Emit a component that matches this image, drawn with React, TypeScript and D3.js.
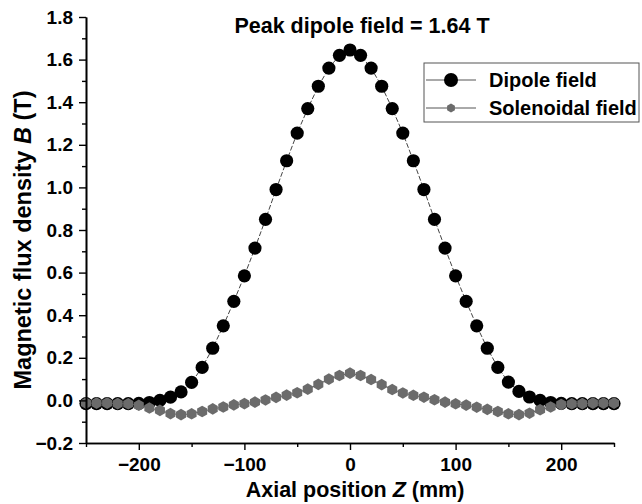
import React, { useEffect, useRef } from "react";
import * as d3 from "d3";

const WIDTH = 642;
const HEIGHT = 504;
const FONT = "'Liberation Sans', Arial, sans-serif";

// axial positions (mm)
const positions = [
  -250, -240, -230, -220, -210, -200, -190, -180, -170, -160, -150, -140, -130,
  -120, -110, -100, -90, -80, -70, -60, -50, -40, -30, -20, -10, 0, 10, 20, 30,
  40, 50, 60, 70, 80, 90, 100, 110, 120, 130, 140, 150, 160, 170, 180, 190, 200,
  210, 220, 230, 240, 250,
];

// dipole field B (T)
const dipole = [
  -0.015, -0.015, -0.015, -0.015, -0.015, -0.014, -0.01, 0.0, 0.015, 0.04,
  0.085, 0.155, 0.245, 0.35, 0.465, 0.585, 0.715, 0.85, 0.99, 1.125, 1.255,
  1.37, 1.475, 1.56, 1.62, 1.645, 1.62, 1.56, 1.475, 1.37, 1.255, 1.125, 0.99,
  0.85, 0.715, 0.585, 0.465, 0.35, 0.245, 0.155, 0.086, 0.042, 0.016, 0.0,
  -0.01, -0.014, -0.015, -0.015, -0.015, -0.015, -0.015,
];

// solenoidal field B (T)
const solenoidal = [
  -0.013, -0.013, -0.013, -0.015, -0.016, -0.023, -0.036, -0.047, -0.062,
  -0.067, -0.063, -0.052, -0.04, -0.031, -0.021, -0.015, -0.008, 0.002, 0.014,
  0.025, 0.036, 0.053, 0.075, 0.1, 0.117, 0.128, 0.117, 0.098, 0.074, 0.051,
  0.035, 0.024, 0.015, 0.003, -0.008, -0.016, -0.022, -0.032, -0.042, -0.052,
  -0.063, -0.067, -0.06, -0.044, -0.031, -0.019, -0.016, -0.015, -0.013, -0.013,
  -0.013,
];

const xMajor = [-200, -100, 0, 100, 200];
const xMinor = [-250, -150, -50, 50, 150, 250];
const yMajor = [-0.2, 0, 0.2, 0.4, 0.6, 0.8, 1.0, 1.2, 1.4, 1.6, 1.8];
const yMinor = [-0.1, 0.1, 0.3, 0.5, 0.7, 0.9, 1.1, 1.3, 1.5, 1.7];

const legendLabels = ["Dipole field", "Solenoidal field"];
const title = "Peak dipole field = 1.64 T";

const GREY = "#6b6b6b";

const hexagon = (r: number) => {
  const pts = d3.range(6).map((i) => {
    const a = (Math.PI / 3) * i - Math.PI / 2;
    return [r * Math.cos(a), r * Math.sin(a)];
  });
  return "M" + pts.map((p) => p.join(",")).join("L") + "Z";
};

const App = () => {
  const xAxisRef = useRef<SVGGElement>(null);
  const yAxisRef = useRef<SVGGElement>(null);

  const xScale = d3.scaleLinear().domain([-250, 250]).range([86, 614]);
  const yScale = d3.scaleLinear().domain([-0.2, 1.8]).range([443, 17]);

  useEffect(() => {
    const gx = d3.select(xAxisRef.current);
    gx.selectAll("*").remove();
    gx.append("g").call(
      d3.axisBottom(xScale).tickValues(xMajor).tickSize(7).tickPadding(8).tickSizeOuter(0)
        .tickFormat((d) => d3.format("d")(d as number))
    );
    gx.append("g").call(
      d3.axisBottom(xScale).tickValues(xMinor).tickSize(4).tickSizeOuter(0).tickFormat(() => "")
    );

    const gy = d3.select(yAxisRef.current);
    gy.selectAll("*").remove();
    gy.append("g").call(
      d3.axisLeft(yScale).tickValues(yMajor).tickSize(7).tickPadding(6).tickSizeOuter(0)
        .tickFormat((d) => d3.format(".1f")(d as number))
    );
    gy.append("g").call(
      d3.axisLeft(yScale).tickValues(yMinor).tickSize(4).tickSizeOuter(0).tickFormat(() => "")
    );

    [gx, gy].forEach((g) => {
      g.selectAll("path.domain").attr("stroke", "#000").attr("stroke-width", 1.6);
      g.selectAll(".tick line").attr("stroke", "#000").attr("stroke-width", 1.4);
      g.selectAll(".tick text")
        .attr("fill", "#000")
        .style("font-family", FONT)
        .style("font-weight", "bold")
        .style("font-size", "19px");
    });
  }, []);

  const line = d3
    .line<number>()
    .x((_, i) => xScale(positions[i]))
    .y((d) => yScale(d));

  const hex = hexagon(5.8);

  return (
    <svg
      width={WIDTH}
      height={HEIGHT}
      style={{ position: "absolute", left: 0, top: 0, background: "#fff" }}
    >
      <rect width={WIDTH} height={HEIGHT} fill="#fff" />
      <path d={line(dipole) || ""} fill="none" stroke="#444" strokeWidth={1} strokeDasharray="5,2" />
      {dipole.map((v, i) => (
        <circle key={"d" + i} cx={xScale(positions[i])} cy={yScale(v)} r={6.6} fill="#000" />
      ))}
      <path d={line(solenoidal) || ""} fill="none" stroke="#555" strokeWidth={1} />
      {solenoidal.map((v, i) => (
        <path
          key={"s" + i}
          d={hex}
          transform={`translate(${xScale(positions[i])},${yScale(v)})`}
          fill={GREY}
        />
      ))}

      <g ref={xAxisRef} transform="translate(0,443)" />
      <g ref={yAxisRef} transform="translate(86,0)" />

      <text
        x={362}
        y={33}
        textAnchor="middle"
        fontFamily={FONT}
        fontWeight="bold"
        fontSize={21.5}
      >
        {title}
      </text>

      <text
        x={355}
        y={497}
        textAnchor="middle"
        fontFamily={FONT}
        fontWeight="bold"
        fontSize={21.5}
      >
        Axial position <tspan fontStyle="italic">Z</tspan> (mm)
      </text>

      <text
        transform="translate(31,240) rotate(-90)"
        textAnchor="middle"
        fontFamily={FONT}
        fontWeight="bold"
        fontSize={23.5}
      >
        Magnetic flux density <tspan fontStyle="italic">B</tspan> (T)
      </text>

      <g>
        <rect x={424} y={63} width={215} height={59} fill="#fff" stroke="#555" strokeWidth={1} />
        <line x1={426} x2={476} y1={80} y2={80} stroke="#555" strokeWidth={1} />
        <circle cx={451} cy={80} r={7} fill="#000" />
        <text x={489} y={87} fontFamily={FONT} fontWeight="bold" fontSize={20}>
          {legendLabels[0]}
        </text>
        <line x1={426} x2={476} y1={108} y2={108} stroke="#555" strokeWidth={1} />
        <path d={hexagon(4.5)} transform="translate(451,108)" fill={GREY} />
        <text x={489} y={115} fontFamily={FONT} fontWeight="bold" fontSize={20}>
          {legendLabels[1]}
        </text>
      </g>
    </svg>
  );
};

export default App;
